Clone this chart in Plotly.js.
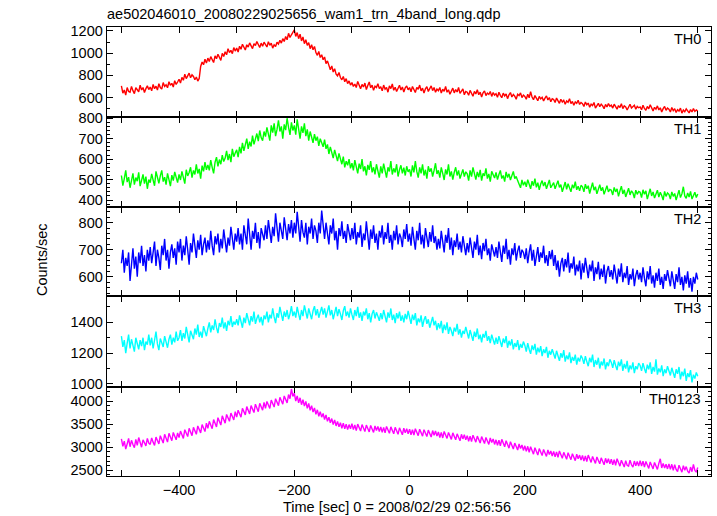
<!DOCTYPE html>
<html><head><meta charset="utf-8">
<script src="https://cdn.plot.ly/plotly-3.0.1.min.js"></script>
<style>html,body{margin:0;padding:0;background:#fff}#chart{width:717px;height:516px}</style>
</head><body><div id="chart"></div>
<script>
// time bins (sec): start, bin width, count
const tStart = -500, tBin = 2.5, nBins = 401;
const time = [];
for (let i = 0; i < nBins; i++) time.push(tStart + i * tBin);

const th0 = [
705,640,668,622,690,655,648,700,662,635,688,670,652,712,668,690,645,680,705,672,
695,660,718,680,702,668,725,690,676,735,700,715,688,742,710,728,695,752,718,740,
765,730,782,755,810,770,795,820,778,805,790,760,785,748,772,880,920,895,945,910,
955,925,968,940,915,975,950,990,960,935,998,970,1012,985,1040,1005,1025,995,1050,1018,
1045,1010,1062,1035,1080,1048,1028,1075,1055,1092,1060,1040,1085,1068,1105,1072,1050,1090,1062,1098,
1080,1055,1102,1070,1090,1045,1075,1060,1098,1082,1115,1090,1130,1105,1150,1120,1178,1140,1165,1195,
1210,1150,1185,1130,1170,1110,1145,1085,1120,1070,1095,1040,1075,1030,1060,1005,980,1015,960,985,
940,965,905,930,880,850,885,830,860,810,795,825,780,760,790,742,770,725,750,712,
735,700,722,690,745,705,680,718,695,730,672,708,740,688,712,665,702,690,725,680,
698,660,712,675,690,648,705,680,722,665,692,655,685,710,668,695,650,688,705,670,
690,652,700,668,645,692,675,712,660,685,640,678,698,655,682,705,662,690,648,676,
662,690,640,675,655,700,648,670,630,665,685,642,672,650,690,638,660,678,625,655,
648,620,665,640,612,655,632,670,625,648,605,642,660,618,640,628,655,610,645,622,
635,602,648,620,598,640,615,632,590,625,645,605,628,612,585,630,618,642,600,622,
610,585,630,598,652,605,580,618,595,572,610,588,602,570,595,615,578,600,562,590,
582,555,595,568,548,585,560,575,540,570,558,590,545,565,530,560,548,575,538,555,
545,520,560,535,550,512,540,528,555,505,535,548,518,540,525,500,538,515,545,522,
532,505,540,515,495,528,510,545,500,525,515,488,522,540,505,518,530,495,520,508,
515,490,530,502,485,520,498,535,505,480,512,495,525,488,508,470,500,520,485,505,
495,470,510,482,500,465,490,478,505,460,488,472,498,480,462,492,470,500,475,488,
478];
const th1 = [
520,470,505,545,488,512,460,498,530,475,510,492,535,468,502,525,480,515,455,500,
485,528,498,470,540,505,482,518,545,490,512,475,530,500,468,522,495,538,510,485,
525,498,540,505,480,548,518,535,560,510,545,525,575,530,552,505,568,540,585,548,
572,545,595,560,530,585,610,565,598,575,620,588,605,640,595,625,585,650,612,630,
645,610,660,628,680,640,665,700,650,685,662,715,672,700,725,688,740,705,690,735,
710,755,722,690,765,730,775,712,745,790,735,760,700,770,742,800,755,718,780,740,
765,720,795,745,700,760,728,775,712,745,690,735,705,680,722,690,710,665,700,680,
660,695,650,672,625,660,638,605,645,615,590,628,600,575,612,560,590,570,600,555,
580,545,595,560,530,578,552,600,540,565,520,572,548,590,535,560,525,575,545,510,
565,530,578,545,510,560,540,590,525,555,535,575,515,548,570,530,558,520,565,538,
550,515,570,535,590,540,510,560,530,575,520,548,505,565,538,555,515,545,580,528,
545,510,560,530,498,550,525,575,515,540,500,535,560,520,545,505,530,550,515,538,
528,495,545,515,560,520,500,538,512,548,495,530,518,555,505,528,490,540,520,508,
535,500,525,545,505,520,490,538,510,528,498,520,540,505,515,495,478,460,498,472,
490,465,500,475,455,492,470,505,462,485,450,478,495,468,488,455,480,498,460,475,
485,455,478,495,462,475,440,470,488,452,480,460,440,475,458,490,450,468,445,472,
465,440,478,455,470,432,462,485,448,465,430,458,475,445,462,428,455,470,440,452,
448,425,462,440,455,418,445,468,430,450,415,440,458,425,445,435,410,448,428,442,
438,412,450,428,445,405,432,455,420,440,410,435,448,415,438,422,400,442,418,435,
428,405,440,418,432,400,425,448,412,430,465,420,408,435,415,442,405,425,438,412,
430];
const th2 = [
650,700,615,670,640,690,585,660,705,630,675,600,690,650,715,640,680,620,700,660,
710,650,690,730,640,700,670,625,715,680,740,660,700,630,690,720,670,705,645,730,
690,740,660,715,680,750,700,645,725,690,760,710,670,735,700,755,680,720,745,690,
735,700,770,715,680,750,720,760,690,740,705,775,730,690,745,715,785,735,700,760,
730,780,720,760,700,790,745,720,815,750,700,770,740,800,725,765,705,780,750,735,
790,740,810,760,725,785,750,835,770,730,800,765,740,820,775,735,795,760,810,745,
800,760,840,780,730,810,765,745,800,720,785,760,815,740,790,770,725,800,760,845,
775,740,800,755,720,790,760,815,735,770,700,780,750,805,740,770,725,795,760,735,
780,740,800,720,765,745,790,710,760,735,805,750,700,775,740,790,725,760,700,770,
745,790,720,765,740,800,725,755,700,770,735,790,720,760,745,710,775,740,795,730,
760,715,785,740,700,770,735,800,720,755,705,780,740,710,765,730,790,725,750,700,
740,705,770,720,690,755,725,780,700,745,680,735,710,760,700,730,690,750,715,680,
725,690,745,705,670,730,700,755,680,715,665,725,695,740,680,705,660,720,700,675,
710,670,730,690,655,715,685,740,665,700,645,705,680,725,660,695,715,670,700,690,
665,705,650,690,720,660,700,640,685,710,655,690,670,715,650,680,640,695,665,700,
640,680,625,660,600,650,670,620,665,635,690,615,650,630,675,605,645,620,660,590,
650,615,670,630,595,645,620,660,585,635,610,655,590,630,600,645,575,620,640,600,
625,590,645,610,575,630,600,650,580,615,595,640,570,610,590,630,565,605,625,590,
615,580,635,595,565,620,590,640,575,605,560,615,585,630,570,600,555,610,585,625,
600,565,620,585,555,610,580,635,570,600,550,605,575,620,560,595,545,600,575,615,
590];
const th3 = [
1310,1240,1285,1200,1265,1320,1230,1290,1250,1210,1300,1260,1225,1285,1245,1300,1220,1275,1255,1320,
1250,1300,1230,1285,1340,1260,1220,1295,1270,1240,1310,1265,1235,1290,1320,1255,1300,1270,1340,1280,
1300,1350,1280,1330,1295,1370,1310,1270,1345,1315,1290,1360,1320,1385,1305,1340,1300,1375,1335,1310,
1360,1400,1335,1380,1350,1420,1365,1330,1395,1370,1430,1360,1400,1345,1410,1380,1440,1370,1405,1385,
1420,1380,1445,1400,1365,1430,1395,1460,1410,1380,1440,1405,1470,1390,1425,1450,1400,1435,1380,1445,
1420,1470,1400,1450,1425,1490,1435,1395,1460,1430,1500,1445,1410,1470,1435,1480,1420,1455,1505,1440,
1470,1430,1500,1455,1415,1480,1440,1510,1460,1425,1490,1450,1420,1475,1505,1445,1485,1430,1470,1500,
1450,1490,1430,1475,1510,1445,1480,1420,1470,1500,1440,1485,1455,1415,1475,1505,1440,1470,1430,1490,
1450,1415,1480,1440,1500,1430,1465,1410,1470,1445,1490,1420,1460,1400,1455,1480,1425,1465,1440,1410,
1460,1420,1480,1440,1400,1465,1430,1490,1415,1450,1395,1460,1425,1470,1410,1445,1400,1455,1420,1475,
1430,1390,1450,1415,1460,1380,1425,1400,1445,1370,1415,1440,1390,1420,1365,1405,1435,1380,1410,1350,
1395,1360,1410,1330,1385,1350,1400,1325,1370,1345,1310,1365,1340,1390,1320,1355,1300,1345,1325,1370,
1330,1295,1350,1310,1280,1340,1305,1360,1290,1320,1270,1325,1300,1345,1280,1310,1265,1320,1290,1255,
1300,1260,1310,1275,1240,1295,1265,1310,1235,1280,1250,1290,1225,1265,1240,1285,1220,1260,1235,1275,
1250,1210,1265,1225,1195,1250,1220,1260,1190,1235,1205,1245,1180,1225,1200,1240,1170,1215,1190,1225,
1200,1165,1215,1180,1150,1200,1170,1220,1145,1185,1160,1205,1135,1175,1150,1190,1125,1170,1145,1185,
1165,1130,1180,1145,1115,1170,1140,1190,1110,1155,1125,1170,1100,1145,1120,1165,1095,1140,1115,1160,
1140,1105,1155,1120,1090,1145,1115,1160,1085,1130,1100,1150,1075,1120,1095,1140,1070,1115,1095,1135,
1120,1085,1135,1100,1070,1125,1095,1140,1065,1110,1080,1160,1060,1100,1075,1120,1050,1095,1070,1115,
1090,1055,1105,1070,1040,1095,1065,1110,1030,1080,1050,1100,1020,1070,1045,1090,1010,1060,1035,1075,
1050];
const th0123 = [
3180,3020,3130,2960,3070,3190,3010,3150,3060,2990,3170,3040,3210,3080,3000,3160,3110,3030,3190,3090,
3060,3200,3110,3040,3220,3150,3070,3250,3160,3090,3280,3180,3110,3300,3200,3140,3320,3230,3160,3310,
3210,3350,3260,3190,3380,3290,3230,3410,3320,3250,3430,3350,3280,3460,3370,3310,3490,3410,3340,3520,
3410,3560,3470,3400,3600,3510,3440,3640,3550,3480,3680,3590,3520,3710,3620,3560,3740,3660,3590,3770,
3650,3800,3720,3650,3840,3760,3700,3880,3790,3720,3900,3810,3750,3930,3840,3770,3950,3860,3800,3970,
3840,3990,3910,3840,4020,3930,3870,4050,3960,3900,4080,3990,3930,4110,4020,3960,4140,4050,4260,4100,
4170,4000,4110,3960,4070,3920,4030,3890,3990,3840,3950,3800,3900,3760,3850,3710,3810,3670,3770,3650,
3730,3600,3700,3560,3650,3530,3620,3490,3590,3460,3560,3440,3530,3410,3520,3400,3500,3380,3490,3400,
3510,3380,3480,3360,3500,3400,3350,3490,3390,3340,3480,3380,3330,3470,3370,3320,3460,3360,3450,3340,
3440,3320,3430,3310,3450,3350,3300,3440,3340,3290,3430,3330,3280,3420,3320,3270,3410,3310,3400,3290,
3390,3270,3380,3260,3400,3300,3250,3390,3290,3240,3380,3280,3230,3370,3270,3220,3360,3260,3350,3240,
3330,3210,3320,3200,3340,3240,3190,3320,3220,3170,3310,3210,3160,3290,3190,3140,3280,3180,3270,3160,
3250,3130,3240,3120,3260,3160,3110,3240,3140,3090,3230,3130,3080,3210,3110,3060,3200,3100,3180,3060,
3160,3040,3150,3030,3170,3070,3010,3140,3040,2980,3120,3020,2960,3090,2990,2940,3070,2970,3050,2930,
3030,2910,3020,2890,3010,2910,2850,2990,2890,2830,2970,2870,2820,2950,2850,2800,2940,2840,2920,2810,
2910,2790,2900,2780,2920,2820,2760,2890,2790,2740,2880,2780,2730,2860,2760,2710,2850,2750,2830,2720,
2820,2700,2810,2690,2830,2730,2670,2800,2700,2650,2790,2690,2640,2770,2670,2620,2760,2660,2750,2640,
2740,2620,2730,2610,2750,2650,2590,2720,2620,2570,2710,2610,2590,2720,2620,2570,2700,2600,2690,2590,
2710,2590,2700,2570,2690,2590,2540,2680,2580,2530,2670,2570,2520,2650,2750,2550,2650,2550,2630,2530,
2640,2520,2630,2500,2620,2520,2470,2610,2510,2460,2600,2500,2580,2480,2440,2570,2470,2630,2500,2460,
2560];

const bandNames = ['TH0','TH1','TH2','TH3','TH0123'];
const bandSeries = [th0, th1, th2, th3, th0123];
const bandColors = ['#ff0000','#00ff00','#0000ff','#00ffff','#ff00ff'];
const yRanges = [[425,1235],[366,806],[529,858],[980,1571],[2377,4303]];
const yDtick = [200,100,100,200,500];
const yMinor = [100,20,20,100,100];
const xRange = [-525,523];

const FONT = 'Liberation Sans, Arial, Helvetica, sans-serif';
// domains top to bottom (panel 0 on top)
const domains = [[0.7996,1],[0.5991,0.7996],[0.4009,0.5991],[0.1982,0.4009],[0,0.1982]];

const traces = [];
const layout = {
  width: 717, height: 516,
  margin: {l:107, r:6, t:27, b:40},
  paper_bgcolor:'#fff', plot_bgcolor:'#fff',
  showlegend:false,
  font:{family:FONT, size:14, color:'#000'},
  title:{text:'ae502046010_20080229025656_wam1_trn_4band_long.qdp',
    x:107/717, xref:'container', xanchor:'left',
    y:1-14/516, yref:'container', yanchor:'middle',
    font:{family:FONT, size:14.5, color:'#000'}},
  annotations:[]
};

for (let k = 0; k < 5; k++) {
  const suf = k === 4 ? '' : String(5 - k);  // bottom panel uses x/y
  const xName = 'x' + suf, yName = 'y' + suf;
  traces.push({
    x: time, y: bandSeries[k], type:'scatter', mode:'lines',
    line:{color:bandColors[k], width:1.4}, xaxis:xName, yaxis:yName,
    hoverinfo:'skip'
  });
  const xKey = 'xaxis' + suf, yKey = 'yaxis' + suf;
  layout[xKey] = {
    range:xRange, anchor:yName, domain:[0,1],
    showline:true, linecolor:'#000', linewidth:1.3, mirror:'allticks',
    ticks:'inside', ticklen:6, tickcolor:'#000', tickwidth:1,
    tickmode:'linear', tick0:-400, dtick:200,
    minor:{ticks:'inside', dtick:100, tick0:-500, ticklen:6, tickcolor:'#000', tickwidth:1},
    showgrid:false, zeroline:false,
    showticklabels: k === 4,
    tickfont:{family:FONT, size:14.5, color:'#000'}
  };
  if (k !== 4) layout[xKey].matches = 'x';
  layout[yKey] = {
    range:yRanges[k], anchor:xName, domain:domains[k],
    showline:true, linecolor:'#000', linewidth:1.3, mirror:'allticks',
    ticks:'inside', ticklen:6, tickcolor:'#000', tickwidth:1,
    tickmode:'linear', tick0:0, dtick:yDtick[k],
    minor:{ticks:'inside', dtick:yMinor[k], ticklen:3, tickcolor:'#000', tickwidth:1},
    showgrid:false, zeroline:false,
    tickfont:{family:FONT, size:14.5, color:'#000'}
  };
  layout.annotations.push({
    text:bandNames[k], xref:'paper', x:1, xanchor:'right', xshift:-8,
    yref:yName + ' domain', y:1, yanchor:'top', yshift:-2,
    showarrow:false, font:{family:FONT, size:14.5, color:'#000'}
  });
}
layout.annotations.push({
  text:'Counts/sec', xref:'paper', x:(42-107)/604, xanchor:'center',
  yref:'paper', y:(476-260)/449, yanchor:'middle', textangle:-90,
  showarrow:false, font:{family:FONT, size:14.5, color:'#000'}
});
layout.annotations.push({
  text:'Time [sec] 0 = 2008/02/29 02:56:56', xref:'paper', x:(397-107)/604, xanchor:'center',
  yref:'paper', y:(476-507)/449, yanchor:'middle',
  showarrow:false, font:{family:FONT, size:14.5, color:'#000'}
});

Plotly.newPlot('chart', traces, layout, {staticPlot:true, displayModeBar:false});
</script></body></html>
